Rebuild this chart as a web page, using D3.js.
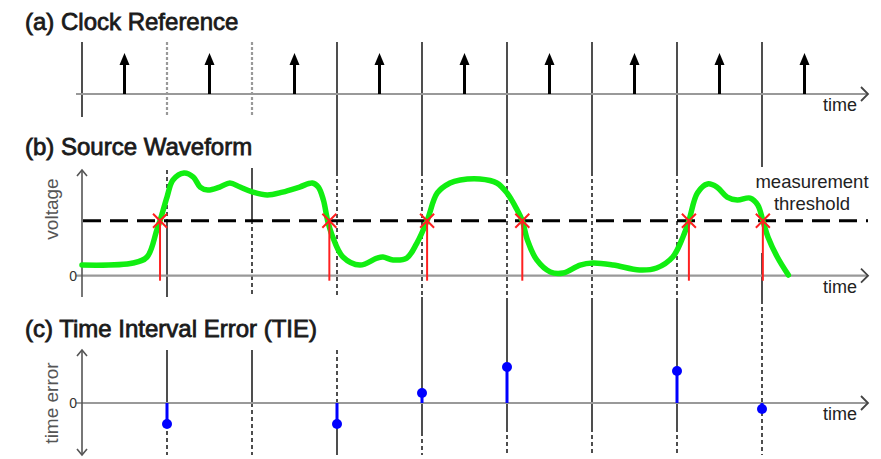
<!DOCTYPE html>
<html><head><meta charset="utf-8">
<script src="https://cdn.jsdelivr.net/npm/d3@7"></script>
<style>body{margin:0;background:#fff}svg{display:block}</style>
</head><body>
<svg id="c" width="881" height="459"></svg>
<script>
// ---- data ----
const gridTimes = [0, 1, 2, 3, 4, 5, 6, 7, 8];
const clockEdges = [0.5, 1.5, 2.5, 3.5, 4.5, 5.5, 6.5, 7.5, 8.5];
const waveT = [0, 0.6, 0.765, 0.88, 0.918, 1.0, 1.07, 1.2, 1.31, 1.39, 1.48, 1.62, 1.74, 1.86, 2.01, 2.18, 2.36, 2.56, 2.71, 2.78, 2.84, 2.89, 2.95, 3.07, 3.27, 3.47, 3.54, 3.66, 3.82, 3.94, 4.06, 4.18, 4.33, 4.45, 4.68, 4.88, 5.0, 5.12, 5.18, 5.24, 5.35, 5.51, 5.66, 5.86, 6.01, 6.25, 6.56, 6.76, 6.95, 7.07, 7.14, 7.24, 7.36, 7.47, 7.59, 7.71, 7.86, 7.95, 8.01, 8.07, 8.18, 8.31];
const waveV = [9.7, 11.5, 17, 41.5, 50, 71.5, 87, 93.4, 89.7, 80.6, 77.9, 80.6, 84.3, 80.6, 76, 73.4, 76, 80.6, 84.3, 80.6, 68.8, 50, 35.2, 17, 9.7, 16, 17, 14.3, 16, 29.7, 50, 75.2, 84.3, 87, 87.9, 84.3, 75.2, 59.7, 50, 32.5, 14.3, 3.4, 2.5, 9.7, 11.5, 9.7, 5.2, 7, 17, 35.2, 50, 75.2, 83.4, 80.6, 71.5, 68.8, 70.6, 64.3, 50, 35.2, 17, 0.6];
const threshold = 50;
const crossT = [0.918, 2.91, 4.06, 5.18, 7.14, 8.01];
const tieT = [1, 3, 4, 5, 7, 8];
const tieV = [-0.42, -0.42, 0.2, 0.72, 0.64, -0.12];
const titles = ["(a) Clock Reference", "(b) Source Waveform", "(c) Time Interval Error (TIE)"];
const yLabels = ["voltage", "time error"];
const thresholdLabel = ["measurement", "threshold"];
const axisLabel = "time";

// ---- layout ----
const svg = d3.select("#c");
const x = d3.scaleLinear().domain([0, 8]).range([82, 762]);
const ya = d3.scaleLinear().domain([0, 1]).range([94, 53]);
const yb = d3.scaleLinear().domain([0, 100]).range([275.7, 165.7]);
const yc = d3.scaleLinear().domain([-1, 1]).range([453, 353]);
const FONT = "Liberation Sans, Arial, Helvetica, sans-serif";
const xL = 76, xR = 868;

// vertical guide segments: [grid index, y0, y1, style]
const segs = [
  [0, 42, 117, 's'],
  [1, 42, 117, 'g'], [1, 170, 220, 'd'], [1, 220, 297, 's'], [1, 350, 403, 's'], [1, 403, 455, 'd'],
  [2, 42, 117, 'g'], [2, 168, 220, 's'], [2, 220, 297, 'd'], [2, 350, 403, 's'], [2, 403, 455, 'd'],
  [3, 42, 172, 's'], [3, 172, 297, 'd'], [3, 350, 403, 'd'], [3, 403, 455, 's'],
  [4, 42, 172, 's'], [4, 172, 297, 'd'], [4, 297, 432, 's'], [4, 432, 455, 'd'],
  [5, 42, 172, 's'], [5, 172, 300, 'd'], [5, 300, 428, 's'], [5, 428, 455, 'd'],
  [6, 42, 172, 's'], [6, 172, 300, 'd'], [6, 300, 428, 's'], [6, 428, 455, 'd'],
  [7, 42, 172, 's'], [7, 172, 300, 'd'], [7, 300, 428, 's'], [7, 428, 455, 'd'],
  [8, 42, 167, 's'], [8, 253, 300, 's'], [8, 300, 455, 'd']
];
svg.append("g").selectAll("line").data(segs).join("line")
  .attr("x1", d => x(gridTimes[d[0]])).attr("x2", d => x(gridTimes[d[0]]))
  .attr("y1", d => d[1]).attr("y2", d => d[2])
  .attr("stroke", d => d[3] === 'g' ? "#999" : "#222")
  .attr("stroke-width", d => d[3] === 'g' ? 2.2 : 1.6)
  .attr("stroke-dasharray", d => d[3] === 's' ? null : (d[3] === 'g' ? "3,2" : "4,3"));

// horizontal axes
const hAxes = [ya(0), yb(0), yc(0)];
svg.append("g").selectAll("line").data(hAxes).join("line")
  .attr("x1", xL).attr("x2", xR).attr("y1", d => d).attr("y2", d => d)
  .attr("stroke", "#999").attr("stroke-width", 2.2);
svg.append("g").selectAll("path").data(hAxes).join("path")
  .attr("d", d => `M${xR - 7},${d - 7}L${xR},${d}L${xR - 7},${d + 7}`)
  .attr("fill", "none").attr("stroke", "#444").attr("stroke-width", 1.8);
svg.append("g").selectAll("text").data(hAxes).join("text")
  .attr("x", 840).attr("y", d => d + 17).attr("text-anchor", "middle")
  .attr("font-family", FONT).attr("font-size", 18).attr("fill", "#222").text(axisLabel);

// vertical axes (b, c)
const yAx = svg.append("g").attr("stroke", "#555").attr("stroke-width", 1.6).attr("fill", "none");
yAx.append("line").attr("x1", 82).attr("x2", 82).attr("y1", 170).attr("y2", 297);
yAx.append("path").attr("d", "M77,176L82,170L87,176");
yAx.append("line").attr("x1", 82).attr("x2", 82).attr("y1", 350).attr("y2", 455);
yAx.append("path").attr("d", "M77,356L82,350L87,356");
yAx.append("path").attr("d", "M77,449L82,455L87,449");

// zero labels via d3 axes
[yb, yc].forEach(s => {
  const g = svg.append("g").attr("transform", "translate(79,0)")
    .call(d3.axisLeft(s).tickValues([0]).tickSize(0).tickPadding(2).tickFormat(d3.format("d")));
  g.select(".domain").remove();
  g.selectAll("text").attr("font-family", FONT).attr("font-size", 14).attr("fill", "#333");
});

// clock arrows
const ck = svg.append("g");
ck.selectAll("line").data(clockEdges).join("line")
  .attr("x1", d => x(d)).attr("x2", d => x(d)).attr("y1", ya(0)).attr("y2", ya(0.8))
  .attr("stroke", "#000").attr("stroke-width", 3);
ck.selectAll("path").data(clockEdges).join("path")
  .attr("d", d => `M${x(d)},${ya(1)}L${x(d) - 5},${ya(1) + 12}L${x(d) + 5},${ya(1) + 12}Z`)
  .attr("fill", "#000");

// threshold
svg.append("line").attr("x1", 83).attr("x2", 868).attr("y1", yb(threshold)).attr("y2", yb(threshold))
  .attr("stroke", "#000").attr("stroke-width", 3).attr("stroke-dasharray", "18,9");

// waveform
const line = d3.line().x(d => x(d[0])).y(d => yb(d[1])).curve(d3.curveCatmullRom.alpha(0.5));
svg.append("path").datum(waveT.map((t, i) => [t, waveV[i]]))
  .attr("d", line).attr("fill", "none").attr("stroke", "#11ee11")
  .attr("stroke-width", 5.5).attr("stroke-linecap", "round").attr("stroke-linejoin", "round");

// crossings
const cr = svg.append("g").attr("stroke", "#ff2020");
cr.selectAll("line.v").data(crossT).join("line").attr("class", "v")
  .attr("x1", d => x(d)).attr("x2", d => x(d)).attr("y1", yb(threshold)).attr("y2", yb(0) + 5)
  .attr("stroke-width", 2);
cr.selectAll("path").data(crossT).join("path")
  .attr("d", d => { const cx = x(d), cy = yb(threshold); return `M${cx - 7},${cy - 7}L${cx + 7},${cy + 7}M${cx - 7},${cy + 7}L${cx + 7},${cy - 7}`; })
  .attr("stroke-width", 2).attr("fill", "none");

// TIE stems
const tg = svg.append("g");
tg.selectAll("line").data(tieT).join("line")
  .attr("x1", d => x(d)).attr("x2", d => x(d)).attr("y1", yc(0)).attr("y2", (d, i) => yc(tieV[i]))
  .attr("stroke", "#0000ff").attr("stroke-width", 3);
tg.selectAll("circle").data(tieT).join("circle")
  .attr("cx", d => x(d)).attr("cy", (d, i) => yc(tieV[i])).attr("r", 5).attr("fill", "#0000ff");

// titles
const ty = [30, 155, 337];
svg.append("g").selectAll("text").data(titles).join("text")
  .attr("x", 25).attr("y", (d, i) => ty[i])
  .attr("font-family", FONT).attr("font-size", 24).attr("fill", "#1a1a1a")
  .attr("stroke", "#1a1a1a").attr("stroke-width", 0.8).text(d => d);

// y labels
const yl = [[58, 209], [58, 403]];
svg.append("g").selectAll("text").data(yLabels).join("text")
  .attr("transform", (d, i) => `translate(${yl[i][0]},${yl[i][1]}) rotate(-90)`)
  .attr("text-anchor", "middle").attr("font-family", FONT).attr("font-size", 19).attr("fill", "#555")
  .text(d => d);

// threshold label
svg.append("g").selectAll("text").data(thresholdLabel).join("text")
  .attr("x", 812).attr("y", (d, i) => 188 + i * 22).attr("text-anchor", "middle")
  .attr("font-family", FONT).attr("font-size", 18.5).attr("fill", "#222").text(d => d);
</script>
</body></html>
